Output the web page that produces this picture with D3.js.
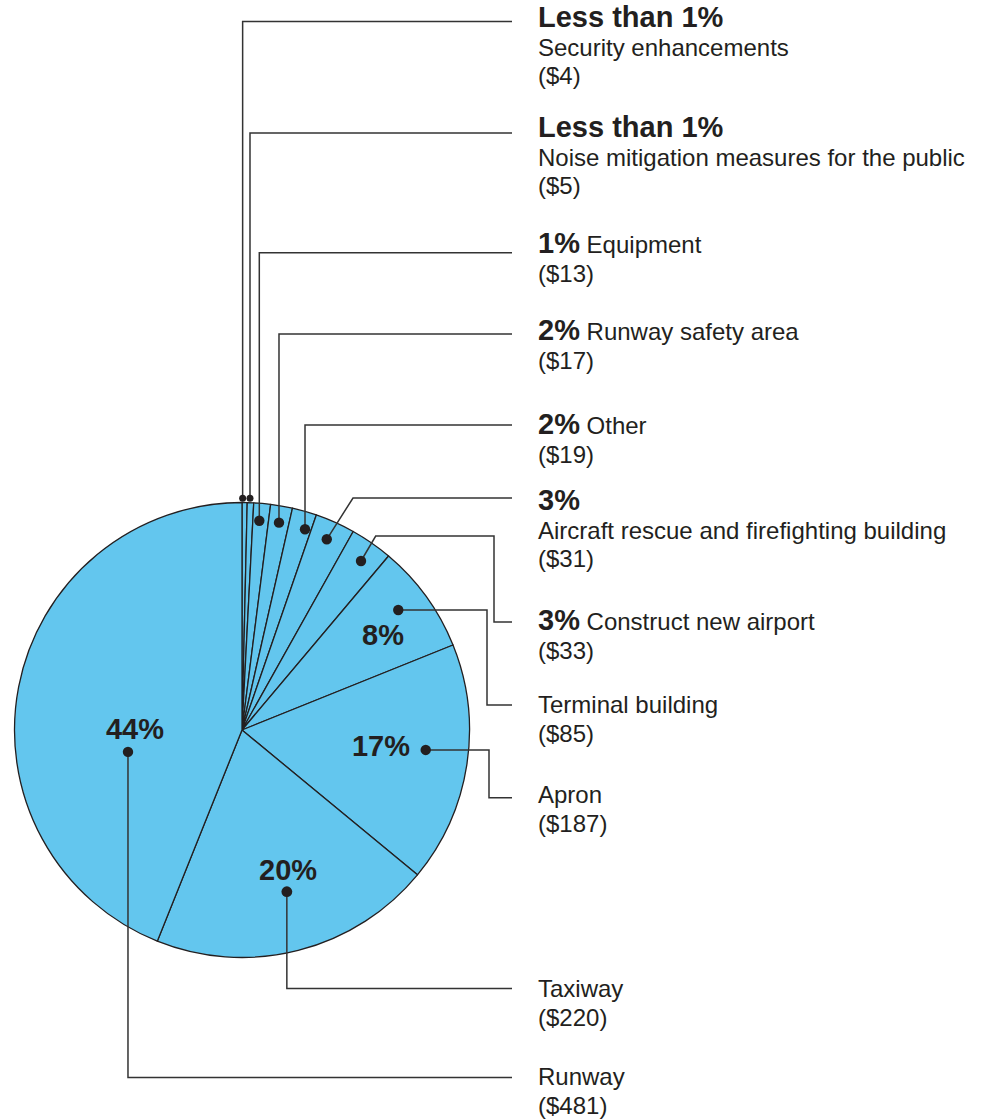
<!DOCTYPE html>
<html>
<head>
<meta charset="utf-8">
<script src="https://cdn.jsdelivr.net/npm/d3@7"></script>
<style>
  html, body { margin: 0; padding: 0; background: #fff; }
  svg { display: block; }
  text { font-family: "Liberation Sans", Arial, Helvetica, sans-serif; fill: #231f20; }
</style>
</head>
<body>
<svg id="chart" width="982" height="1120"></svg>
<script>
// ---- data ----
const categories = [
  "Security enhancements",
  "Noise mitigation measures for the public",
  "Equipment",
  "Runway safety area",
  "Other",
  "Aircraft rescue and firefighting building",
  "Construct new airport",
  "Terminal building",
  "Apron",
  "Taxiway",
  "Runway"
];
const values = [4, 5, 13, 17, 19, 31, 33, 85, 187, 220, 481];

// ---- layout (positions / styles) ----
const labelKind = ["stack", "stack", "inline", "inline", "inline", "stack", "inline", "plain", "plain", "plain", "plain"];
const dotOffsetDeg = [-0.5, -0.16, -0.37, 0.09, 1.48, -0.2, 0.47, -1.6, -2.6, -1.2, -21.8];
const dotRadius = [231.7, 231.8, 210, 210.6, 210.4, 208.7, 206.7, 197, 184.8, 167.8, 116.1];
const dotSize = [3.5, 3.5, 5.2, 5.2, 5.2, 5.2, 5.2, 5.2, 5.2, 5.4, 5.2];
const textBaseline = [27, 137, 253.4, 340, 433.5, 510, 630, 713, 802.5, 996.5, 1084.5];
const lineEnd = 512;
// route points after the dot; null = take coordinate from dot
const routes = [
  [[null, 21.5], [lineEnd, 21.5]],
  [[null, 133], [lineEnd, 133]],
  [[null, 252.7], [lineEnd, 252.7]],
  [[null, 334], [lineEnd, 334]],
  [[null, 425], [lineEnd, 425]],
  [[353, 498], [lineEnd, 498]],
  [[375.7, 536], [494, 536], [494, 622], [lineEnd, 622]],
  [[487, null], [487, 705], [lineEnd, 705]],
  [[489, null], [489, 797.7], [lineEnd, 797.7]],
  [[null, 988.5], [lineEnd, 988.5]],
  [[null, 1077.5], [lineEnd, 1077.5]]
];
// inner percentage labels: [angle offset deg, radius]
const innerLabels = { 7: [1.7, 170.6], 8: [-2.6, 139.8], 9: [-3.9, 147.4], 10: [-10.4, 107] };

const cx = 242, cy = 730, R = 227.5;
const textX = 538;
const boldSize = 29, regSize = 24, lineGap = 29;
const fillColor = "#63c6ee";
const ink = "#231f20";

const total = d3.sum(values);
const pctText = v => {
  const p = v / total * 100;
  return p < 1 ? "Less than 1%" : Math.round(p) + "%";
};

const svg = d3.select("#chart");
const g = svg.append("g").attr("transform", `translate(${cx},${cy})`);

const pie = d3.pie().sort(null).value(d => d);
const arcs = pie(values);
const arc = d3.arc().innerRadius(0).outerRadius(R);

g.selectAll("path.slice")
  .data(arcs)
  .join("path")
  .attr("class", "slice")
  .attr("d", arc)
  .attr("fill", fillColor)
  .attr("stroke", ink)
  .attr("stroke-width", 1.3)
  .attr("stroke-linejoin", "round");

const polar = (angle, r) => [cx + r * Math.sin(angle), cy - r * Math.cos(angle)];
const deg = Math.PI / 180;

const dots = arcs.map((a, i) => {
  const mid = (a.startAngle + a.endAngle) / 2 + dotOffsetDeg[i] * deg;
  return polar(mid, dotRadius[i]);
});

// leader lines
const line = d3.line();
svg.selectAll("path.leader")
  .data(arcs)
  .join("path")
  .attr("class", "leader")
  .attr("d", (a, i) => {
    const d0 = dots[i];
    const pts = [d0].concat(routes[i].map(p => [p[0] === null ? d0[0] : p[0], p[1] === null ? d0[1] : p[1]]));
    return line(pts);
  })
  .attr("fill", "none")
  .attr("stroke", "#333")
  .attr("stroke-width", 1.5);

// dots
svg.selectAll("circle.dot")
  .data(arcs)
  .join("circle")
  .attr("class", "dot")
  .attr("cx", (a, i) => dots[i][0])
  .attr("cy", (a, i) => dots[i][1])
  .attr("r", (a, i) => dotSize[i])
  .attr("fill", ink);

// inner percentage labels
Object.keys(innerLabels).forEach(k => {
  const i = +k;
  const a = arcs[i];
  const [off, r] = innerLabels[k];
  const p = polar((a.startAngle + a.endAngle) / 2 + off * deg, r);
  svg.append("text")
    .attr("x", p[0])
    .attr("y", p[1] + boldSize * 0.36)
    .attr("text-anchor", "middle")
    .attr("font-weight", "bold")
    .attr("font-size", boldSize)
    .text(pctText(values[i]));
});

// right-side labels
categories.forEach((name, i) => {
  const y0 = textBaseline[i];
  const kind = labelKind[i];
  const valueStr = "($" + values[i] + ")";
  const t = svg.append("text").attr("x", textX).attr("y", y0);
  if (kind === "stack") {
    t.append("tspan").attr("font-weight", "bold").attr("font-size", boldSize).text(pctText(values[i]));
    svg.append("text").attr("x", textX).attr("y", y0 + lineGap - 0.5).attr("font-size", regSize).text(name);
    svg.append("text").attr("x", textX).attr("y", y0 + 2 * lineGap - 1).attr("font-size", regSize).text(valueStr);
  } else if (kind === "inline") {
    t.append("tspan").attr("font-weight", "bold").attr("font-size", boldSize).text(pctText(values[i]));
    t.append("tspan").attr("font-size", regSize).text(" " + name);
    svg.append("text").attr("x", textX).attr("y", y0 + lineGap).attr("font-size", regSize).text(valueStr);
  } else {
    t.attr("font-size", regSize).text(name);
    svg.append("text").attr("x", textX).attr("y", y0 + lineGap).attr("font-size", regSize).text(valueStr);
  }
});
</script>
</body>
</html>
